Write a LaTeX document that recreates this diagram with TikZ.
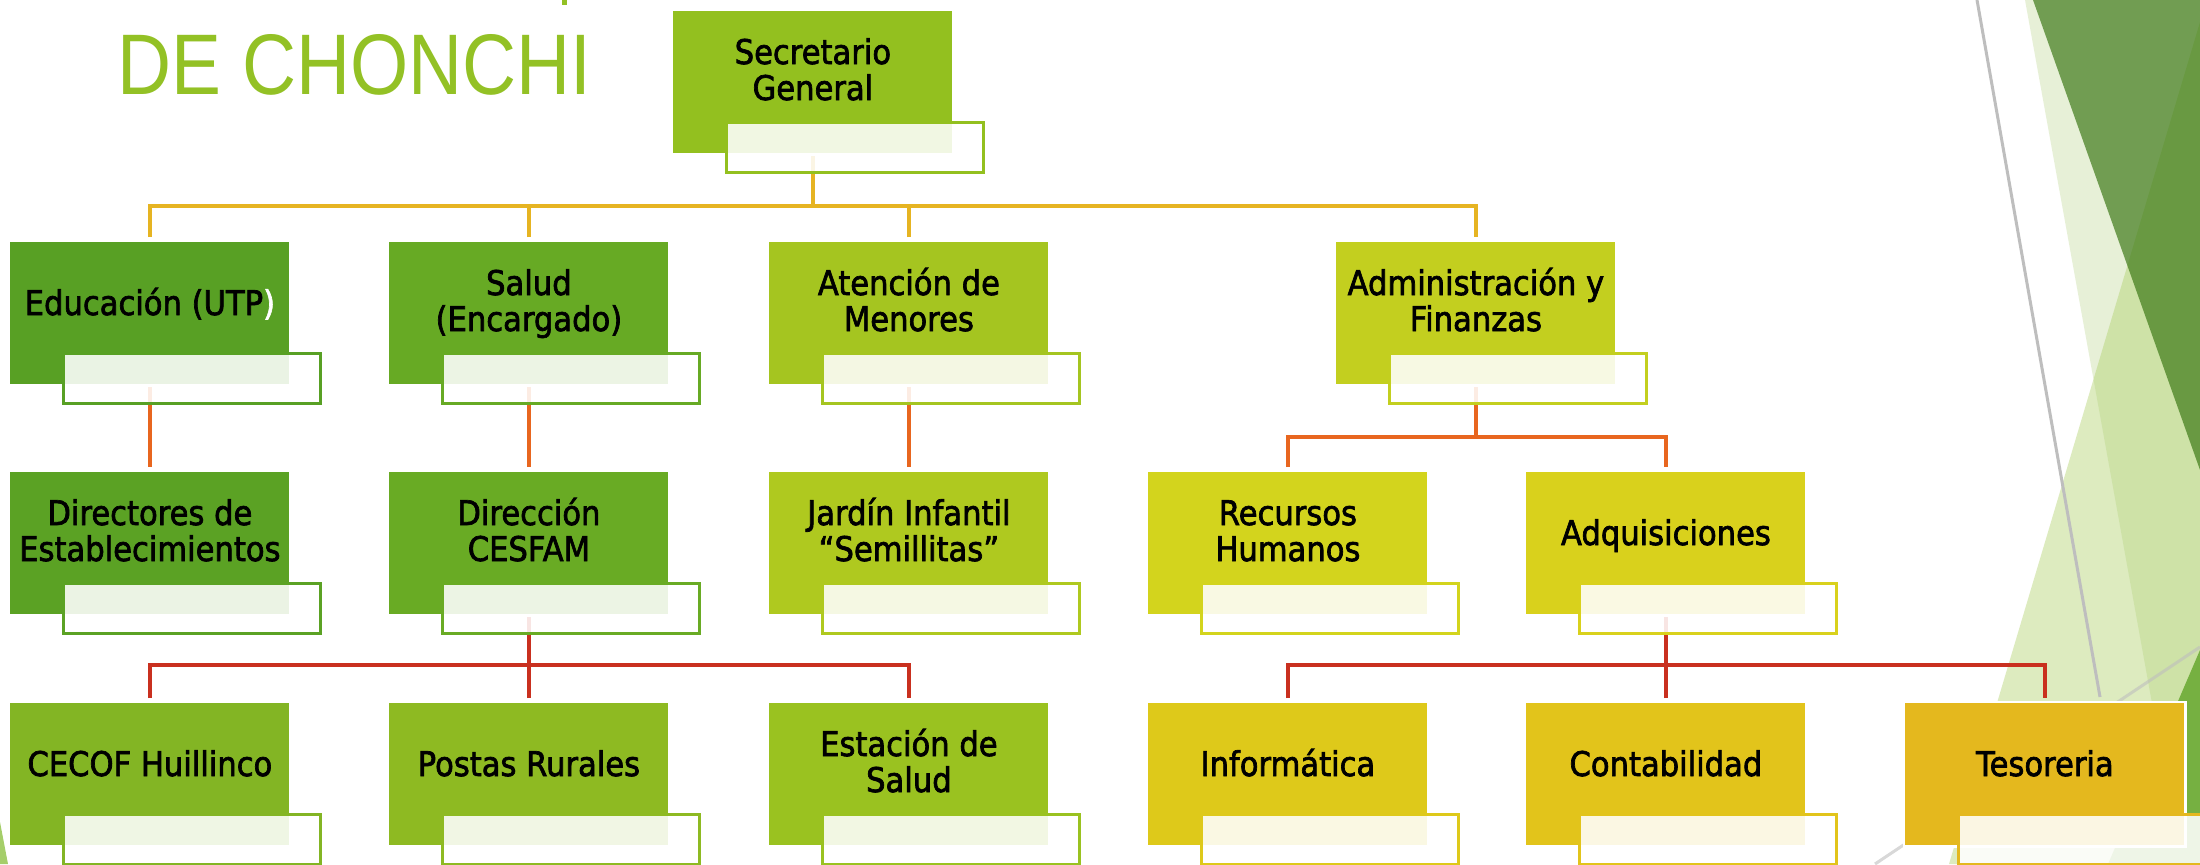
\documentclass[tikz,border=0pt]{standalone}
\usepackage{fontspec}
\setmainfont{DejaVu Sans}[FakeStretch=0.9]
\newfontfamily\boxfont{DejaVu Sans}[FakeStretch=0.9,FakeBold=2]
\newfontfamily\titlefont{Liberation Sans}[FakeStretch=0.87]
\definecolor{cTitle}{HTML}{93C125}
\definecolor{cSec}{HTML}{93C01F}
\definecolor{cEdu}{HTML}{58A024}
\definecolor{cSal}{HTML}{67AA24}
\definecolor{cAte}{HTML}{A5C520}
\definecolor{cAdm}{HTML}{C3CF1F}
\definecolor{cDir}{HTML}{5BA224}
\definecolor{cCes}{HTML}{69AB24}
\definecolor{cJar}{HTML}{AFC91F}
\definecolor{cRrh}{HTML}{D3D41D}
\definecolor{cAdq}{HTML}{D9D11C}
\definecolor{cCec}{HTML}{83B524}
\definecolor{cPos}{HTML}{8EBA22}
\definecolor{cEst}{HTML}{9AC220}
\definecolor{cInf}{HTML}{DEC91A}
\definecolor{cCon}{HTML}{E2C41B}
\definecolor{cTes}{HTML}{E4B81E}
\definecolor{cYel}{HTML}{E6B422}
\definecolor{cOra}{HTML}{E8661F}
\definecolor{cRed}{HTML}{C9301F}
\definecolor{bgD}{HTML}{B2D07D}
\definecolor{bgB}{HTML}{AACD61}
\definecolor{bgA}{HTML}{3A7713}
\definecolor{bgE}{HTML}{76B041}
\definecolor{bgS}{HTML}{A5CE6A}
\definecolor{bgL}{HTML}{BEBEBE}
\pgfdeclarelayer{back}
\pgfdeclarelayer{lines}
\pgfsetlayers{back,lines,main}
\tikzset{
  orgbox/.style={rectangle, inner sep=0pt, minimum width=139.5pt, minimum height=71pt,
    anchor=north west, preaction={draw=white, line width=2.5pt}},
  subbox/.style={draw=#1, line width=1.5pt, fill=white, fill opacity=0.88},
  lbl/.style={anchor=base, inner sep=0pt, align=center, font=\boxfont\fontsize{17}{18}\selectfont},
  conn/.style={line width=1.75pt},
  lnY/.style={conn, draw=cYel},
  lnO/.style={conn, draw=cOra},
  lnR/.style={conn, draw=cRed},
}
% name, x, y, colour, baseline shift of last line, text
\newcommand\orgunit[6]{%
  \node[orgbox, fill=#4] (#1) at (#2,#3) {};
  \draw[subbox=#4] ([xshift=26.5pt,yshift=15.5pt]#1.south west) rectangle ([xshift=15.5pt,yshift=-9.5pt]#1.south east);
  \node[lbl] (#1t) at ([yshift=-#5]#1.north) {#6};
}
\begin{document}
\begin{tikzpicture}[x=0.5pt,y=-0.5pt]
\useasboundingbox (0,0) rectangle (2200,864);
\begin{pgfonlayer}{back}
  \fill[white] (0,0) rectangle (2200,864);
  \fill[bgD, fill opacity=0.3] (2025,0) -- (2200,0) -- (2200,864) -- (2181,864) -- cycle;
  \fill[bgB, fill opacity=0.4] (2200,22) -- (2200,864) -- (1949,864) -- cycle;
  \fill[bgA, fill opacity=0.68] (2033,0) -- (2200,0) -- (2200,470) -- cycle;
  \fill[bgE] (2200,650) -- (2200,864) -- (2108,864) -- cycle;
  \draw[bgL, line width=1.5pt] (1977,0) -- (2100,697);
  \draw[bgL, line width=1.5pt, draw opacity=0.6] (1875,864) -- (2200,647);
  \fill[bgS] (0,822) -- (8,864) -- (0,864) -- cycle;
  \fill[cTitle] (562,0) rectangle (567,5);
\end{pgfonlayer}

\node[anchor=base west, text=cTitle, inner sep=0pt, font=\titlefont\fontsize{43}{44}\selectfont] (title) at (117,94) {DE CHONCHI};

\orgunit{sec}{673}{11}{cSec}{44.5pt}{Secretario\\General}
\orgunit{edu}{10}{242}{cEdu}{36.5pt}{Educación (UTP\textcolor{white}{)}}
\orgunit{sal}{389}{242}{cSal}{44.5pt}{Salud\\(Encargado)}
\orgunit{ate}{769}{242}{cAte}{44.5pt}{Atención de\\Menores}
\orgunit{adm}{1336}{242}{cAdm}{44.5pt}{Administración y\\Finanzas}
\orgunit{dir}{10}{472}{cDir}{44.5pt}{Directores de\\Establecimientos}
\orgunit{ces}{389}{472}{cCes}{44.5pt}{Dirección\\CESFAM}
\orgunit{jar}{769}{472}{cJar}{44.5pt}{Jardín Infantil\\“Semillitas”}
\orgunit{rrh}{1148}{472}{cRrh}{44.5pt}{Recursos\\Humanos}
\orgunit{adq}{1526}{472}{cAdq}{36.5pt}{Adquisiciones}
\orgunit{cec}{10}{703}{cCec}{36.5pt}{CECOF Huillinco}
\orgunit{pos}{389}{703}{cPos}{36.5pt}{Postas Rurales}
\orgunit{est}{769}{703}{cEst}{44.5pt}{Estación de\\Salud}
\orgunit{inf}{1148}{703}{cInf}{36.5pt}{Informática}
\orgunit{con}{1526}{703}{cCon}{36.5pt}{Contabilidad}
\orgunit{tes}{1905}{703}{cTes}{36.5pt}{Tesoreria}

\coordinate (h0) at (0,206);
\coordinate (h1) at (0,437);
\coordinate (h2) at (0,665);
\begin{pgfonlayer}{lines}
  \draw[lnY] (sec.south) -- (sec.south |- h0);
  \draw[lnY] ([yshift=2.5pt]edu.north) |- (adm.north |- h0) -- ([yshift=2.5pt]adm.north);
  \draw[lnY] ([yshift=2.5pt]sal.north) -- (sal.north |- h0);
  \draw[lnY] ([yshift=2.5pt]ate.north) -- (ate.north |- h0);
  \draw[lnO] (edu.south) -- ([yshift=2.5pt]dir.north);
  \draw[lnO] (sal.south) -- ([yshift=2.5pt]ces.north);
  \draw[lnO] (ate.south) -- ([yshift=2.5pt]jar.north);
  \draw[lnO] (adm.south) -- (adm.south |- h1);
  \draw[lnO] ([yshift=2.5pt]rrh.north) |- (adq.north |- h1) -- ([yshift=2.5pt]adq.north);
  \draw[lnR] (ces.south) -- (ces.south |- h2);
  \draw[lnR] ([yshift=2.5pt]cec.north) |- (est.north |- h2) -- ([yshift=2.5pt]est.north);
  \draw[lnR] ([yshift=2.5pt]pos.north) -- (pos.north |- h2);
  \draw[lnR] (adq.south) -- (adq.south |- h2);
  \draw[lnR] ([yshift=2.5pt]inf.north) |- (tes.north |- h2) -- ([yshift=2.5pt]tes.north);
  \draw[lnR] ([yshift=2.5pt]con.north) -- (con.north |- h2);
\end{pgfonlayer}
\end{tikzpicture}
\end{document}
